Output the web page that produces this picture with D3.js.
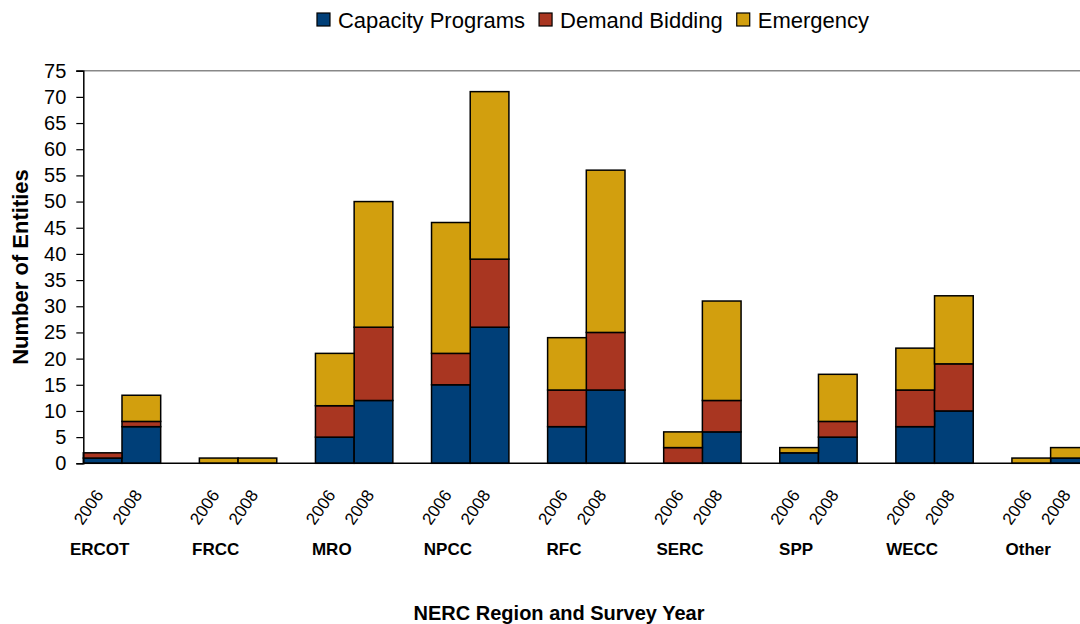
<!DOCTYPE html>
<html>
<head>
<meta charset="utf-8">
<script src="https://cdn.jsdelivr.net/npm/d3@7"></script>
<style>
  body { margin: 0; background: #fff; }
  svg { display: block; font-family: "Liberation Sans", Arial, sans-serif; }
</style>
</head>
<body>
<div id="chart"></div>
<script>
// Regions, survey years and the three program series (counts per region/year)
var regions = ["ERCOT", "FRCC", "MRO", "NPCC", "RFC", "SERC", "SPP", "WECC", "Other"];
var years = ["2006", "2008"];
var seriesNames = ["Capacity Programs", "Demand Bidding", "Emergency"];
var seriesColors = ["#003f78", "#a93621", "#d29f0e"];

// values listed region by region: [2006, 2008, 2006, 2008, ...]
var capacity      = [1, 7,  0, 0,  5, 12,  15, 26,  7, 14,  0, 6,  2, 5,  7, 10,  0, 1];
var demandBidding = [1, 1,  0, 0,  6, 14,   6, 13,  7, 11,  3, 6,  0, 3,  7,  9,  0, 0];
var emergency     = [0, 5,  1, 1, 10, 24,  25, 32, 10, 31,  3, 19, 1, 9,  8, 13,  1, 2];

var yTicks = d3.range(0, 80, 5);

var width = 1080, height = 624;
var plotLeft = 83.3, plotRight = 1128, plotTop = 70.7, plotBottom = 463.3;

// build rows: one per region/year
var rows = [];
regions.forEach(function (r, i) {
  years.forEach(function (y, j) {
    var k = i * 2 + j;
    rows.push({
      key: r + "|" + y, region: r, year: y,
      "Capacity Programs": capacity[k],
      "Demand Bidding": demandBidding[k],
      "Emergency": emergency[k]
    });
  });
});

// slots: two bars then an empty slot for each region
var slots = [];
regions.forEach(function (r) {
  years.forEach(function (y) { slots.push(r + "|" + y); });
  slots.push(r + "|gap");
});

var x = d3.scaleBand().domain(slots).range([plotLeft, plotRight]).padding(0);
var y = d3.scaleLinear().domain([0, 75]).range([plotBottom, plotTop]);
var color = d3.scaleOrdinal().domain(seriesNames).range(seriesColors);

var svg = d3.select("#chart").append("svg")
  .attr("width", width)
  .attr("height", height);

// top border of plot area
svg.append("line")
  .attr("x1", plotLeft - 7).attr("x2", plotRight)
  .attr("y1", y(75)).attr("y2", y(75))
  .attr("stroke", "#888").attr("stroke-width", 1.5);

// stacked bars
var stacked = d3.stack().keys(seriesNames)(rows);

svg.append("g")
  .selectAll("g")
  .data(stacked)
  .enter().append("g")
  .attr("fill", function (d) { return color(d.key); })
  .selectAll("rect")
  .data(function (d) { return d.filter(function (s) { return s[1] - s[0] > 0; }); })
  .enter().append("rect")
  .attr("x", function (d) { return x(d.data.key); })
  .attr("width", x.bandwidth())
  .attr("y", function (d) { return y(d[1]); })
  .attr("height", function (d) { return y(d[0]) - y(d[1]); })
  .attr("stroke", "#000")
  .attr("stroke-width", 1.5);

// y axis
var yAxis = svg.append("g")
  .attr("transform", "translate(" + plotLeft + ",0)")
  .call(d3.axisLeft(y).tickValues(yTicks).tickSize(7).tickPadding(10));
yAxis.select(".domain").attr("stroke", "#000").attr("stroke-width", 1.5);
yAxis.selectAll(".tick line").attr("stroke", "#000").attr("stroke-width", 1.2);
yAxis.selectAll("text")
  .attr("font-size", "20px")
  .attr("fill", "#000")
  .attr("font-family", "'Liberation Sans', Arial, sans-serif");

// baseline
svg.append("line")
  .attr("x1", plotLeft).attr("x2", plotRight)
  .attr("y1", y(0)).attr("y2", y(0))
  .attr("stroke", "#000").attr("stroke-width", 1.5);

// year labels (rotated)
svg.append("g")
  .selectAll("text")
  .data(rows)
  .enter().append("text")
  .attr("transform", function (d) {
    return "translate(" + (x(d.key) + x.bandwidth() / 2 + 1.5) + ",495) rotate(-55)";
  })
  .attr("text-anchor", "end")
  .attr("font-size", "17px")
  .attr("fill", "#000")
  .text(function (d) { return d.year; });

// region labels
svg.append("g")
  .selectAll("text")
  .data(regions)
  .enter().append("text")
  .attr("x", function (d) { return x(d + "|2006") + x.bandwidth() / 2 - 3; })
  .attr("y", 555)
  .attr("text-anchor", "middle")
  .attr("font-size", "17px")
  .attr("font-weight", "bold")
  .attr("fill", "#000")
  .text(function (d) { return d; });

// axis titles
svg.append("text")
  .attr("transform", "translate(28," + ((plotTop + plotBottom) / 2) + ") rotate(-90)")
  .attr("text-anchor", "middle")
  .attr("font-size", "22px")
  .attr("font-weight", "bold")
  .text("Number of Entities");

svg.append("text")
  .attr("x", 559)
  .attr("y", 620)
  .attr("text-anchor", "middle")
  .attr("font-size", "20px")
  .attr("font-weight", "bold")
  .text("NERC Region and Survey Year");

// legend
var legend = svg.append("g");
var lx = 0;
seriesNames.forEach(function (name) {
  var item = legend.append("g").attr("transform", "translate(" + lx + ",0)");
  item.append("rect")
    .attr("x", 0).attr("y", 13)
    .attr("width", 13).attr("height", 13)
    .attr("fill", color(name))
    .attr("stroke", "#000").attr("stroke-width", 1.2);
  var t = item.append("text")
    .attr("x", 21).attr("y", 27.5)
    .attr("font-size", "22px")
    .text(name);
  lx += 21 + t.node().getComputedTextLength() + 14;
});
var legendWidth = lx - 14;
legend.attr("transform", "translate(" + (593 - legendWidth / 2) + ",0)");
</script>
</body>
</html>
